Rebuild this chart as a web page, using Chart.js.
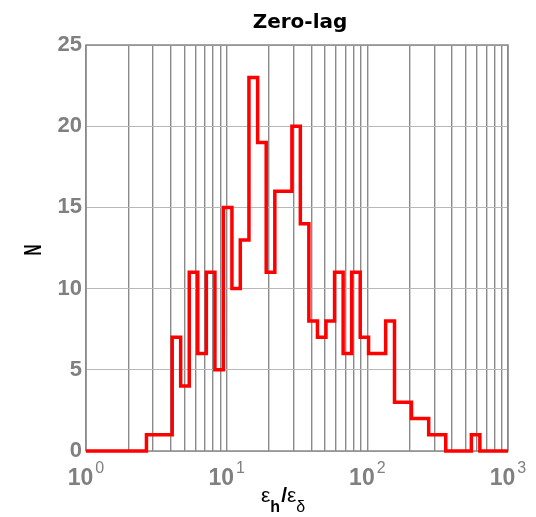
<!DOCTYPE html>
<html>
<head>
<meta charset="utf-8">
<title>Zero-lag</title>
<script src="https://cdn.jsdelivr.net/npm/chart.js@4/dist/chart.umd.min.js"></script>
<style>
  html, body { margin: 0; padding: 0; background: #fff; }
  #wrap { width: 536px; height: 517px; }
</style>
</head>
<body>
<div id="wrap"><canvas id="hist" width="536" height="517"></canvas></div>
<script>
// histogram bin edges (eps_h / eps_delta), last one closes the last bin
const binEdges = [2.69, 3.10, 3.56, 4.10, 4.71, 5.42, 6.23, 7.17, 8.25, 9.48,
  10.9, 12.5, 14.4, 16.6, 19.1, 22.0, 25.3, 29.1, 33.4, 38.4,
  44.2, 50.8, 58.5, 67.3, 77.4, 89.0, 102, 118, 135, 156,
  179, 206, 237, 273, 314, 361, 415, 477, 549, 631];
const counts = [1, 1, 1, 7, 4, 11, 6, 11, 5, 15,
  10, 13, 23, 19, 11, 16, 16, 20, 14, 8,
  7, 8, 11, 6, 11, 7, 6, 6, 8, 3,
  3, 2, 2, 1, 1, 0, 0, 0, 1];

const xMin = 1, xMax = 1000;
const xGridTicks = [1, 2, 3, 4, 5, 6, 7, 8, 9,
  10, 20, 30, 40, 50, 60, 70, 80, 90,
  100, 200, 300, 400, 500, 600, 700, 800, 900, 1000];
const decadeTicks = [1, 10, 100, 1000];
const decadeExps = ["0", "1", "2", "3"];
const yTicks = [0, 5, 10, 15, 20, 25];

const GRAY = "#808080";

// step outline: each point is the left edge of a bin with its count
const points = [{ x: xMin, y: 0 }];
counts.forEach((c, i) => points.push({ x: binEdges[i], y: c }));
points.push({ x: binEdges[binEdges.length - 1], y: 0 });
points.push({ x: xMax, y: 0 });

const frameBox = {
  id: "frameBox",
  beforeDatasetsDraw(chart) {
    const { ctx, chartArea: a } = chart;
    ctx.save();
    ctx.strokeStyle = "#8a8a8a";
    ctx.lineWidth = 1.5;
    ctx.strokeRect(a.left, a.top, a.right - a.left, a.bottom - a.top);
    ctx.restore();
  }
};

const labels = {
  id: "labels",
  afterDraw(chart) {
    const { ctx, chartArea: a } = chart;
    const xs = chart.scales.x;
    ctx.save();

    // title
    ctx.fillStyle = "#000";
    ctx.font = "bold 20px 'DejaVu Sans'";
    ctx.textAlign = "center";
    ctx.textBaseline = "alphabetic";
    ctx.fillText("Zero-lag", (a.left + a.right) / 2 + 3, 28);

    // decade labels 10^n
    ctx.fillStyle = GRAY;
    decadeTicks.forEach((v, i) => {
      const px = xs.getPixelForValue(v);
      ctx.font = "bold 23px 'Liberation Sans'";
      const wBase = ctx.measureText("10").width;
      ctx.font = "16px 'Liberation Sans'";
      const wExp = ctx.measureText(decadeExps[i]).width;
      const x0 = px - (wBase + 2 + wExp) / 2;
      ctx.textAlign = "left";
      ctx.font = "bold 23px 'Liberation Sans'";
      ctx.fillText("10", x0, 485);
      ctx.font = "16px 'Liberation Sans'";
      ctx.fillText(decadeExps[i], x0 + wBase + 2, 473);
    });

    // x axis title: eps_h / eps_delta
    ctx.fillStyle = "#000";
    ctx.textAlign = "left";
    let x = 261;
    const base = 502, sub = 512;
    const part = (txt, font, y) => {
      ctx.font = font;
      ctx.fillText(txt, x, y);
      x += ctx.measureText(txt).width;
    };
    part("\u03b5", "21px 'Liberation Sans'", base);
    part("h", "bold 16px 'Liberation Sans'", sub);
    x += 1;
    part("/", "bold 21px 'Liberation Sans'", base);
    part("\u03b5", "21px 'Liberation Sans'", base);
    part("\u03b4", "16px 'Liberation Sans'", sub);

    // y axis title
    ctx.translate(34, (a.top + a.bottom) / 2 + 2);
    ctx.rotate(-Math.PI / 2);
    ctx.scale(0.7, 1.1);
    ctx.font = "bold 22px 'Liberation Sans'";
    ctx.textAlign = "center";
    ctx.textBaseline = "middle";
    ctx.fillText("N", 0, 0);
    ctx.restore();
  }
};

new Chart(document.getElementById("hist"), {
  type: "line",
  data: {
    datasets: [{
      data: points,
      stepped: "before",
      borderColor: "#ff0000",
      borderWidth: 3.5,
      pointRadius: 0,
      fill: false,
      clip: 4
    }]
  },
  options: {
    responsive: false,
    animation: false,
    devicePixelRatio: 1,
    layout: { padding: { top: 45, right: 28, left: 0, bottom: 0 } },
    plugins: {
      legend: { display: false },
      tooltip: { enabled: false }
    },
    scales: {
      x: {
        type: "logarithmic",
        min: xMin,
        max: xMax,
        afterBuildTicks: s => { s.ticks = xGridTicks.map(v => ({ value: v })); },
        afterFit: s => { s.height = 66; },
        ticks: { display: false },
        grid: { color: "#8a8a8a", lineWidth: 1.4, drawTicks: false },
        border: { display: false }
      },
      y: {
        min: 0,
        max: 25,
        afterBuildTicks: s => { s.ticks = yTicks.map(v => ({ value: v })); },
        afterFit: s => { s.width = 86; },
        ticks: {
          color: GRAY,
          padding: 4,
          font: { family: "'Liberation Sans'", size: 22, weight: "bold" }
        },
        grid: { color: "#b8b8b8", lineWidth: 1, drawTicks: false },
        border: { display: false }
      }
    }
  },
  plugins: [frameBox, labels]
});
</script>
</body>
</html>
